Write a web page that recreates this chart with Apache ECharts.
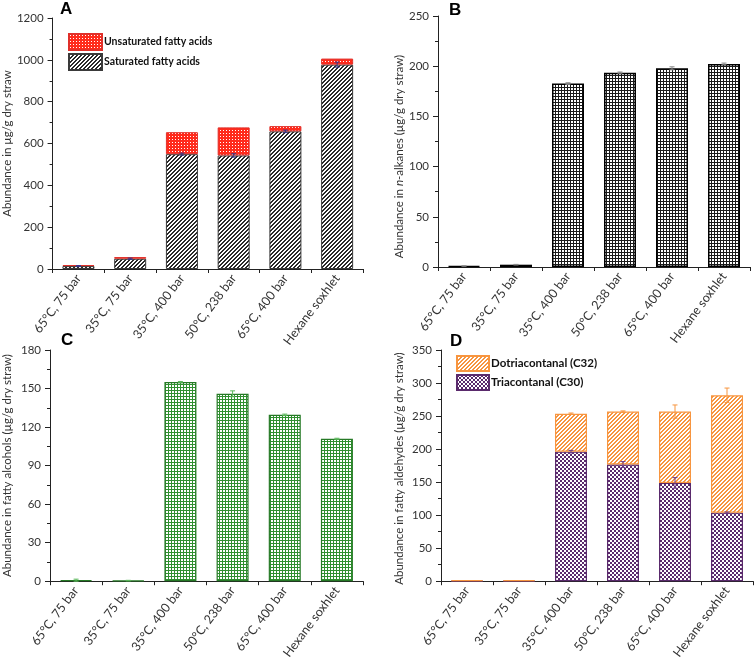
<!DOCTYPE html>
<html><head><meta charset="utf-8">
<script src="https://cdn.jsdelivr.net/npm/echarts@6/dist/echarts.min.js"></script>
<style>html,body{margin:0;padding:0;background:#fff}#c{width:756px;height:662px}</style>
</head><body><div id="c"></div>
<script>
// ---- data ----
const categories = ['65°C, 75 bar','35°C, 75 bar','35°C, 400 bar','50°C, 238 bar','65°C, 400 bar','Hexane soxhlet'];
const saturatedFA   = [14, 49, 549, 543, 658, 977];
const unsaturatedFA = [5, 8, 105, 134, 25, 29];
const saturatedErr  = [2, 3, 5, 8, 6, 12];
const alkanes       = [1.0, 2.3, 182.7, 193.6, 197.9, 202.3];
const alkanesErr    = [0.2, 0.3, 0.8, 0.6, 1.5, 0.8];
const alcohols      = [0.8, 0.5, 155.0, 145.9, 129.5, 110.9];
const alcoholsErr   = [0.8, 0.2, 0.5, 2.3, 0.6, 0.4];
const triacontanal  = [0.3, 0.3, 196.1, 176.6, 148.8, 103.8];
const dotriacontanal= [1.2, 1.2, 57.5, 80.2, 108.0, 177.6];
const triacErr      = [0, 0, 2, 4.5, 8, 1];
const aldehydeTotErr= [0, 0, 1, 1, 10, 11];
const yTicksA = {min:0, max:1200, interval:200, minor:100};
const yTicksB = {min:0, max:250, interval:50, minor:25};
const yTicksC = {min:0, max:180, interval:30, minor:15};
const yTicksD = {min:0, max:350, interval:50, minor:25};

// ---- patterns ----
function pat(size, bg, fg, fn){
  const c=document.createElement('canvas'); c.width=c.height=size;
  const ctx=c.getContext('2d'); ctx.fillStyle=bg; ctx.fillRect(0,0,size,size);
  ctx.fillStyle=fg;
  for(let y=0;y<size;y++)for(let x=0;x<size;x++) if(fn(x,y)) ctx.fillRect(x,y,1,1);
  return {image:c, repeat:'repeat'};
}
const pSat   = pat(4,'#ffffff','#2a2a2a',(x,y)=>(x+y)%4<2);
const pUnsat = pat(3,'#ff2b1c','#ffffff',(x,y)=>x===1&&y===1);
const pAlk   = pat(3,'#ffffff','#1a1a1a',(x,y)=>x===0||y===0);
const pAlc   = pat(3,'#ffffff','#2f8f2f',(x,y)=>x===0||y===0);
const pC32   = pat(4,'#ffffff','#f7953f',(x,y)=>(x+y)%4<2);
const pC30   = pat(4,'#ffffff','#5a2a6c',(x,y)=>(((x>>1)+(y>>1))%2)===0);

const FONT='Lato';
const grids=[
  {left:50, top:18, width:313, height:251},
  {left:438, top:16, width:312, height:251},
  {left:50, top:350, width:313, height:252},
  {left:441, top:350, width:312, height:252}
];
const xAxes=[], yAxes=[];
const names=[
  'Abundance in µg/g dry straw',
  '{a|Abundance in }{i|n}{a|-alkanes (µg/g dry straw)}',
  'Abundance in fatty alcohols (µg/g dry straw)',
  'Abundance in fatty aldehydes (µg/g dry straw)'
];
const nameGaps=[38,32,37,36];
const namePads=[[0,0,0,0],[0,30,0,0],[0,0,0,0],[0,6,0,0]];
const yt=[yTicksA,yTicksB,yTicksC,yTicksD];
grids.forEach((g,i)=>{
  xAxes.push({type:'category',gridIndex:i,data:categories,position:'bottom',
    axisLine:{lineStyle:{color:'#222',width:1}},
    axisTick:{alignWithLabel:true,length:5,lineStyle:{color:'#222'}},
    axisLabel:{rotate:53,fontFamily:FONT,fontSize:12.5,color:'#333',margin:7,interval:0},
    splitLine:{show:false}});
  xAxes.push({type:'category',gridIndex:i,data:categories,position:'bottom',
    axisLine:{show:false},axisTick:{show:true,interval:0,length:4,lineStyle:{color:'#222'}},
    axisLabel:{show:false},splitLine:{show:false}});
  yAxes.push({type:'value',gridIndex:i,position:'left',min:yt[i].min,max:yt[i].max,interval:yt[i].interval,
    name:names[i],nameLocation:'middle',nameGap:nameGaps[i],
    nameTextStyle:{fontFamily:FONT,fontSize:11.5,color:'#333',padding:namePads[i],
      rich:{a:{fontFamily:FONT,fontSize:11.5,color:'#333'},i:{fontFamily:FONT,fontSize:11.5,color:'#333',fontStyle:'italic'}}},
    axisLine:{show:true,lineStyle:{color:'#222',width:1}},
    axisTick:{show:true,length:5,lineStyle:{color:'#222'}},
    axisLabel:{fontFamily:FONT,fontSize:11.5,color:'#333',margin:9,formatter:v=>String(v)},
    splitLine:{show:false}});
  yAxes.push({type:'value',gridIndex:i,position:'left',offset:0,min:yt[i].min,max:yt[i].max,interval:yt[i].minor,
    axisLine:{show:false},axisTick:{show:true,length:3,lineStyle:{color:'#222'}},
    axisLabel:{show:false},splitLine:{show:false}});
});

function errSeries(gi, vals, errs, color){
  return {type:'custom',xAxisIndex:gi*2,yAxisIndex:gi*2,z:10,
    data:vals.map((v,k)=>[k,v,errs[k]]),encode:{x:0,y:1},
    renderItem:function(params,api){
      const k=api.value(0),v=api.value(1),e=api.value(2);
      if(!e) return null;
      const hi=api.coord([k,v+e]), lo=api.coord([k,v-e]);
      const w=2.5;
      const st={stroke:color,lineWidth:1};
      return {type:'group',children:[
        {type:'line',shape:{x1:hi[0],y1:hi[1],x2:lo[0],y2:lo[1]},style:st},
        {type:'line',shape:{x1:hi[0]-w,y1:hi[1],x2:hi[0]+w,y2:hi[1]},style:st},
        {type:'line',shape:{x1:lo[0]-w,y1:lo[1],x2:lo[0]+w,y2:lo[1]},style:st}
      ]};
    }};
}
const totalAld = triacontanal.map((v,k)=>v+dotriacontanal[k]);

const series=[
  {name:'Saturated fatty acids',type:'bar',xAxisIndex:0,yAxisIndex:0,stack:'a',barWidth:32,
    data:saturatedFA,itemStyle:{color:pSat,borderColor:'#3a3a3a',borderWidth:1}},
  {name:'Unsaturated fatty acids',type:'bar',xAxisIndex:0,yAxisIndex:0,stack:'a',barWidth:32,
    data:unsaturatedFA,itemStyle:{color:pUnsat,borderColor:'#e0302a',borderWidth:1}},
  errSeries(0,saturatedFA,saturatedErr,'#34348a'),
  {name:'n-alkanes',type:'bar',xAxisIndex:2,yAxisIndex:2,barWidth:32,
    data:alkanes,itemStyle:{color:pAlk,borderColor:'#000',borderWidth:1.5}},
  errSeries(1,alkanes,alkanesErr,'#888'),
  {name:'fatty alcohols',type:'bar',xAxisIndex:4,yAxisIndex:4,barWidth:32,
    data:alcohols,itemStyle:{color:pAlc,borderColor:'#267a26',borderWidth:1.2}},
  errSeries(2,alcohols,alcoholsErr,'#5cb85c'),
  {name:'Triacontanal (C30)',type:'bar',xAxisIndex:6,yAxisIndex:6,stack:'d',barWidth:32,
    data:triacontanal,itemStyle:{color:pC30,borderColor:'#5a2a6c',borderWidth:1.2}},
  {name:'Dotriacontanal (C32)',type:'bar',xAxisIndex:6,yAxisIndex:6,stack:'d',barWidth:32,
    data:dotriacontanal,itemStyle:{color:pC32,borderColor:'#f7953f',borderWidth:1.2}},
  errSeries(3,triacontanal,triacErr,'#6b3a8a'),
  errSeries(3,totalAld,aldehydeTotErr,'#f7953f')
];

const letterStyle={fontFamily:'Liberation Sans',fontWeight:'bold',fontSize:17,color:'#000'};
const chart=echarts.init(document.getElementById('c'),null,{renderer:'canvas'});
chart.setOption({
  animation:false,
  backgroundColor:'#fff',
  title:[
    {text:'A',left:60,top:1,padding:0,textStyle:letterStyle},
    {text:'B',left:449,top:2,padding:0,textStyle:letterStyle},
    {text:'C',left:61,top:332,padding:0,textStyle:letterStyle},
    {text:'D',left:450,top:333,padding:0,textStyle:letterStyle}
  ],
  legend:[
    {left:68,top:33,padding:0,orient:'vertical',itemWidth:33,itemHeight:16,itemGap:2,icon:'rect',
      data:['Unsaturated fatty acids','Saturated fatty acids'],selectedMode:false,
      textStyle:{fontFamily:FONT,fontWeight:'bold',fontSize:10.5,color:'#111',padding:[0,0,0,-3]}},
    {left:456,top:355,padding:0,orient:'vertical',itemWidth:32,itemHeight:15,itemGap:2,icon:'rect',
      data:['Dotriacontanal (C32)','Triacontanal (C30)'],selectedMode:false,
      textStyle:{fontFamily:FONT,fontWeight:'bold',fontSize:11.5,color:'#111',padding:[0,0,0,-3]}}
  ],
  grid:grids,
  xAxis:xAxes,
  yAxis:yAxes,
  series:series
});
</script></body></html>
